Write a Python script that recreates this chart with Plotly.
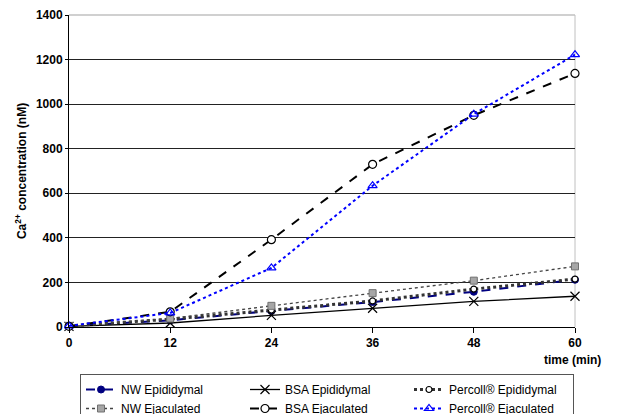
import plotly.graph_objects as go

time_min = [0, 12, 24, 36, 48, 60]
nw_epididymal = [5, 30, 72, 112, 158, 212]
bsa_epididymal = [3, 18, 52, 84, 115, 138]
percoll_epididymal = [5, 35, 76, 117, 170, 215]
nw_ejaculated = [5, 38, 95, 152, 208, 272]
bsa_ejaculated = [3, 68, 392, 730, 950, 1138]
percoll_ejaculated = [5, 63, 265, 634, 955, 1222]
y_ticks = [0, 200, 400, 600, 800, 1000, 1200, 1400]
x_ticks = [0, 12, 24, 36, 48, 60]

FONT = "Liberation Sans, Arial, sans-serif"

fig = go.Figure()

def add(name, y, color, dash, width, symbol, msize, mfill, mline, mlw=1):
    fig.add_trace(go.Scatter(
        x=time_min, y=y, name=name, mode="lines+markers", cliponaxis=False,
        line=dict(color=color, dash=dash, width=width),
        marker=dict(symbol=symbol, size=msize, color=mfill,
                    line=dict(color=mline, width=mlw)),
    ))

add("NW Epididymal", nw_epididymal, "#000080", "dash", 2, "circle", 7, "#000080", "#000080")
add("BSA Epididymal", bsa_epididymal, "#000000", "solid", 1.3, "x-thin-open", 9, "#000000", "#000000", 1.2)
add("Percoll® Epididymal", percoll_epididymal, "#333333", "dot", 3, "circle", 6, "#ffffff", "#000000", 1.2)
add("NW Ejaculated", nw_ejaculated, "#444444", "dot", 1.3, "square", 7, "#a6a6a6", "#707070", 1)
add("BSA Ejaculated", bsa_ejaculated, "#000000", "dash", 2, "circle", 8, "#ffffff", "#000000", 1.2)
add("Percoll® Ejaculated", percoll_ejaculated, "#0000ff", "dot", 2, "triangle-up-open", 8, "#0000ff", "#0000ff", 1.2)

L, R, T, B = 69, 45, 15, 87
W, H = 620, 414
pw = W - L - R
ph = H - T - B

fig.update_layout(
    width=W, height=H,
    margin=dict(l=L, r=R, t=T, b=B, autoexpand=False),
    paper_bgcolor="white", plot_bgcolor="white",
    font=dict(family=FONT, size=12, color="black"),
    xaxis=dict(range=[0, 60], tickvals=x_ticks, ticks="outside", ticklen=5,
               tickcolor="black", showline=True, linecolor="black", linewidth=1,
               showgrid=False, zeroline=False,
               tickfont=dict(family=FONT, size=12, weight="bold"),
               fixedrange=True),
    yaxis=dict(range=[0, 1400], tickvals=y_ticks, ticks="outside", ticklen=3,
               tickcolor="black", showline=True, linecolor="black", linewidth=1,
               showgrid=True, gridcolor="#222222", gridwidth=1, zeroline=False,
               tickfont=dict(family=FONT, size=12, weight="bold"),
               title=dict(text="<b>Ca<sup>2+</sup> concentration (nM)</b>",
                          font=dict(family=FONT, size=12), standoff=6),
               fixedrange=True),
    showlegend=True,
    legend=dict(orientation="h", x=(80 - L) / pw, xanchor="left",
                y=(ph - (374 - T)) / ph, yanchor="top",
                entrywidth=119, entrywidthmode="pixels",
                bordercolor="#555555", borderwidth=1, bgcolor="white",
                font=dict(family=FONT, size=12), tracegroupgap=0,
                itemwidth=30),
    annotations=[dict(text="<b>time (min)</b>", xref="paper", yref="paper",
                      x=(603 - L) / pw, y=(ph - (360 - T)) / ph,
                      xanchor="right", yanchor="middle", showarrow=False,
                      font=dict(family=FONT, size=12))],
    shapes=[
        dict(type="line", xref="paper", yref="paper", x0=0, x1=1, y0=1, y1=1,
             line=dict(color="#c0c0c0", width=1.5), layer="above"),
        dict(type="line", xref="paper", yref="paper", x0=1, x1=1, y0=0, y1=1,
             line=dict(color="#c0c0c0", width=1), layer="below"),
    ],
)

fig.write_html("out.html", config={"displayModeBar": False},
               post_script="document.body.style.margin='0';document.body.style.overflow='hidden';")
